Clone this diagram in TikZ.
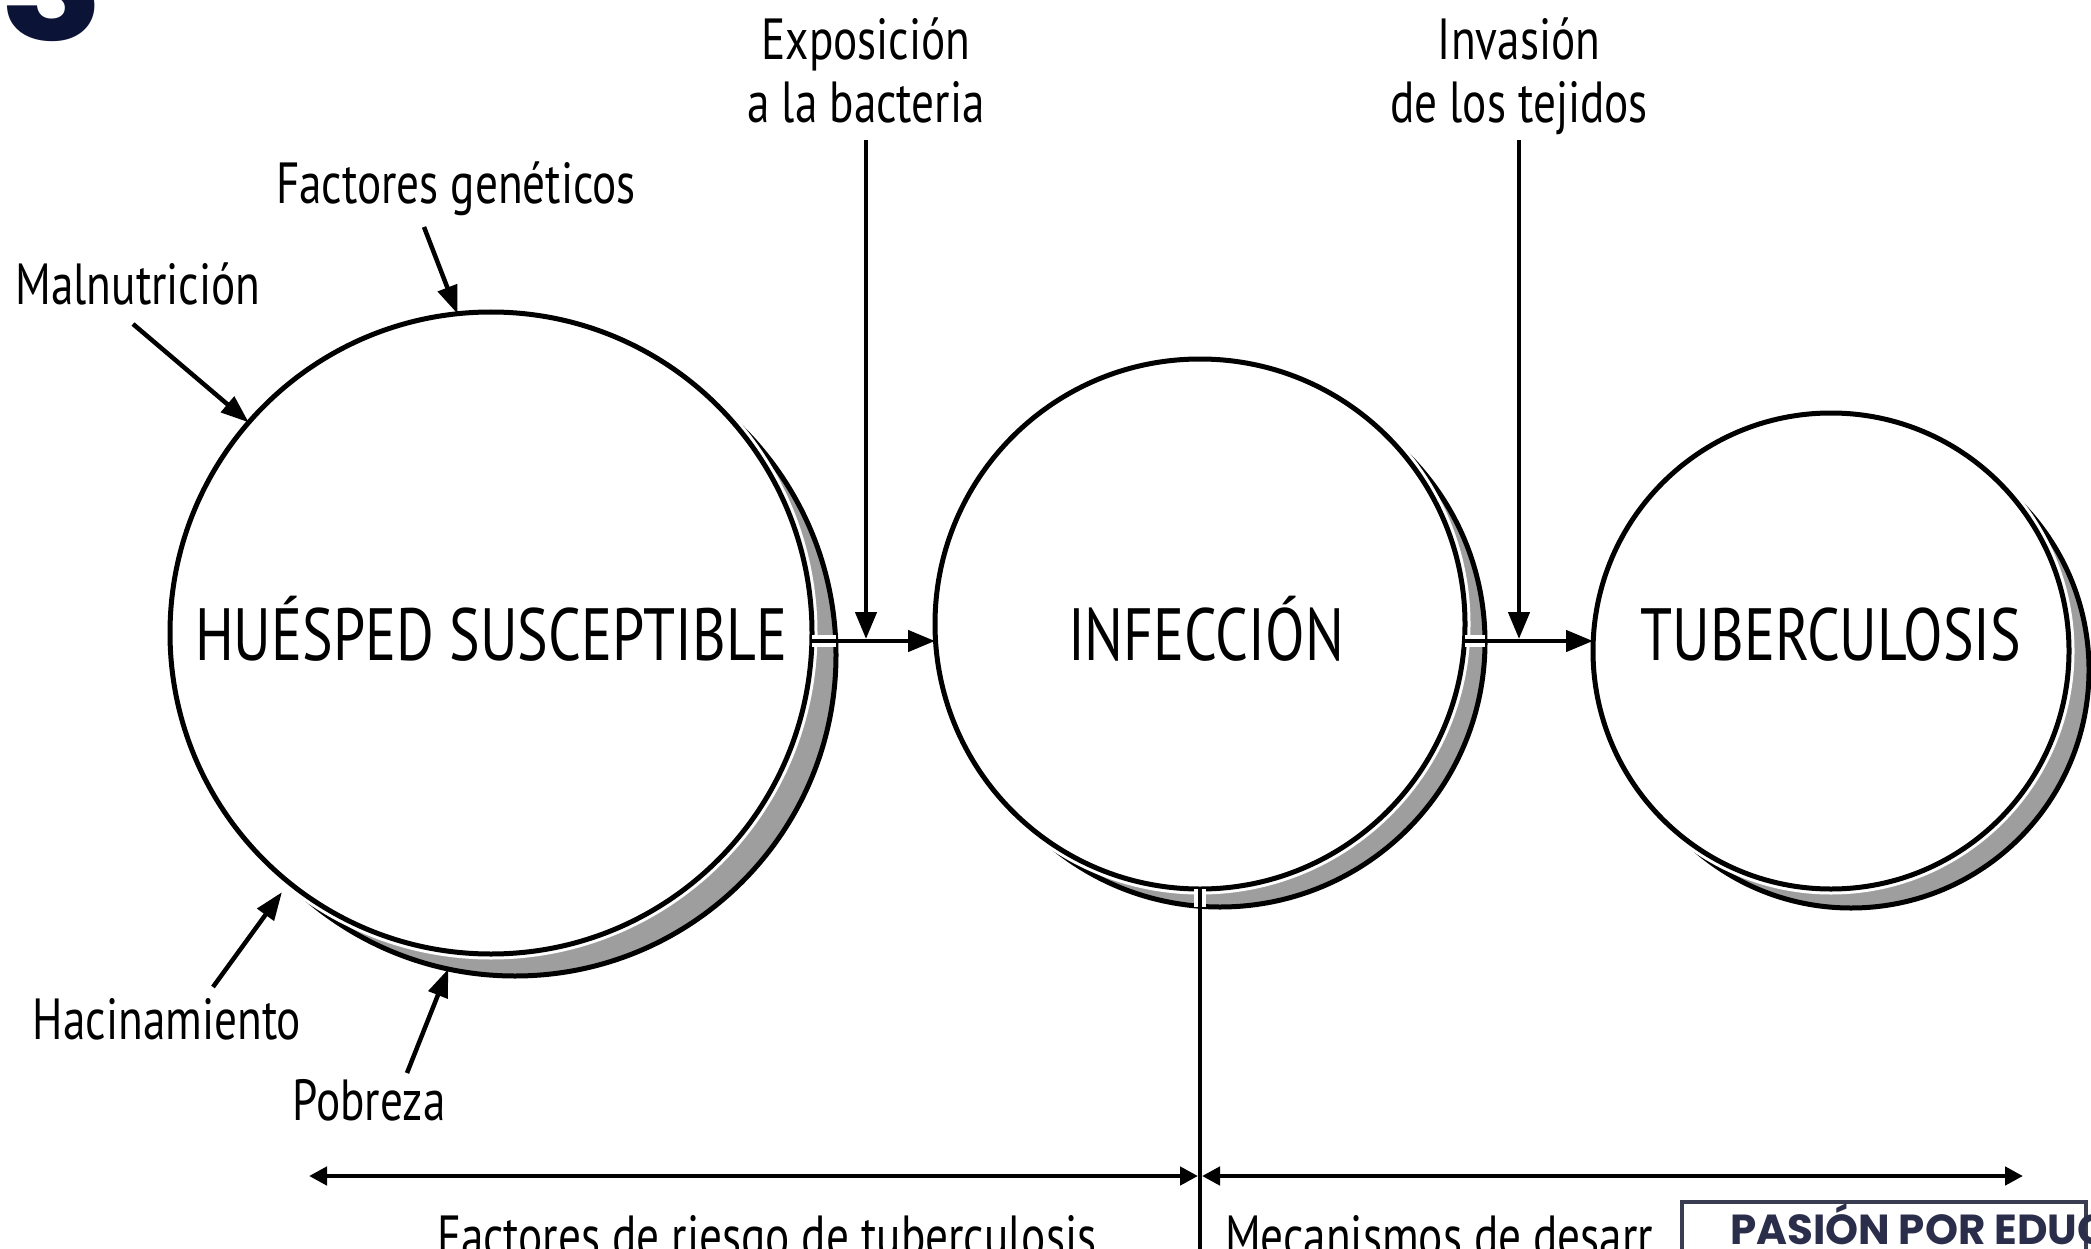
\documentclass[tikz,border=0pt]{standalone}
\usepackage{fontspec}
\setmainfont{PT Sans}[FakeStretch=0.78]
\newfontfamily\logofont{Poppins}
\usetikzlibrary{arrows.meta}
\definecolor{navy}{HTML}{0B1437}
\definecolor{boxline}{HTML}{3A3C52}
\definecolor{boxtext}{HTML}{2B2E4A}
\definecolor{shadegray}{gray}{0.62}
\begin{document}
\begin{tikzpicture}[x=1pt,y=-1pt,
  every node/.style={inner sep=0pt, outer sep=0pt},
  lbl/.style={font=\fontsize{58}{62}\selectfont, text depth=0pt},
  big/.style={font=\fontsize{74}{78}\selectfont},
  disc/.style={circle, draw, line width=5pt, fill=white, preaction={draw=white, line width=11pt}},
  shadowdisc/.style={circle, draw, line width=5pt, fill=shadegray},
  arr/.style={line width=4.5pt, -{Triangle[length=27pt,width=21pt]}},
  arrlbl/.style={line width=4.5pt, -{Triangle[length=28pt,width=20pt]}},
  darr/.style={line width=4.5pt, {Triangle[length=18pt,width=18pt]}-{Triangle[length=18pt,width=18pt]}},
  gapline/.style={white, line width=12pt}
]
\useasboundingbox (0,0) rectangle (2091,1249);
\clip (0,0) rectangle (2091,1249);

% fragment of a large letter at top left
\node[anchor=base west, text=navy, font=\logofont\bfseries\fontsize{165}{165}\selectfont] (bigS) at (0,41) {S};

% circles with shadows
\node[shadowdisc, minimum size=642pt] (c1s) at (515,655) {};
\node[disc, minimum size=642pt] (c1) at (491,633) {};
\node[shadowdisc, minimum size=530pt] (c2s) at (1220,642) {};
\node[disc, minimum size=530pt] (c2) at (1200,624) {};
\node[shadowdisc, minimum size=476pt] (c3s) at (1851,670) {};
\node[disc, minimum size=476pt] (c3) at (1831,651) {};

% circle texts
\node[big, anchor=base] (t1) at (491,660) {HUÉSPED SUSCEPTIBLE};
\node[big, anchor=base] (t2) at (1206,660) {INFECCIÓN};
\node[big, anchor=base] (t3) at (1831,660) {TUBERCULOSIS};

% main row
\coordinate (row) at (0,641);
\coordinate (bot) at (0,1262);
\draw[gapline] (c1.east |- row) -- (c1s.east |- row);
\draw[gapline] (c2.east |- row) -- (c2s.east |- row);
\draw[gapline] (c2.south) -- (c2s.south -| c2.south);
\draw[arr] (c1.east |- row) -- (c2.west |- row);
\draw[arr] (c2.east |- row) -- (c3.west |- row);

% top labels
\node[lbl, anchor=base] (expo1) at (866,60) {Exposición};
\node[lbl, anchor=base] (expo2) at (866,123) {a la bacteria};
\node[lbl, anchor=base] (inv1) at (1519,60) {Invasión};
\node[lbl, anchor=base] (inv2) at (1519,123) {de los tejidos};
\draw[arr, shorten <=17pt, shorten >=2pt] (expo2.south) -- (expo2.south |- row);
\draw[arr, shorten <=17pt, shorten >=2pt] (inv2.south) -- (inv2.south |- row);

% risk factor labels
\node[lbl, anchor=base] (gen) at (456,204) {Factores genéticos};
\node[lbl, anchor=base] (mal) at (138,305) {Malnutrición};
\node[lbl, anchor=base] (hac) at (167,1039) {Hacinamiento};
\node[lbl, anchor=base] (pob) at (369,1120) {Pobreza};
\coordinate (gen-a) at (424,227);
\coordinate (mal-a) at (133,324);
\coordinate (hac-a) at (213,987);
\coordinate (pob-a) at (407,1073);
\draw[arrlbl] (gen-a) -- (c1.96);
\draw[arrlbl] (mal-a) -- (c1.139);
\draw[arrlbl, shorten >=12pt] (hac-a) -- (c1.231);
\draw[arrlbl] (pob-a) -- (c1s.258);

% bottom scale
\draw[line width=4.5pt] (c2.south) -- (c2.south |- bot);
\coordinate (dl) at (309,1176);
\coordinate (dr) at (2023,1176);
\draw[darr, shorten >=2pt] (dl) -- (dl -| c2.south);
\draw[darr, shorten <=2pt] (dr -| c2.south) -- (dr);
\node[lbl, anchor=base] (risk) at (767,1256) {Factores de riesgo de tuberculosis};
\node[lbl, anchor=base west] (mech) at (1225,1256) {Mecanismos de desarr};

% overlay box
\node[draw=boxline, fill=white, line width=4pt, anchor=north west, minimum width=404pt, minimum height=100pt] (logo) at (1682,1202) {};
\node[anchor=base west, text=boxtext, font=\logofont\bfseries\fontsize{42}{42}\selectfont] (logotxt) at (1730,1244) {PASIÓN POR EDUC};
\end{tikzpicture}
\end{document}
